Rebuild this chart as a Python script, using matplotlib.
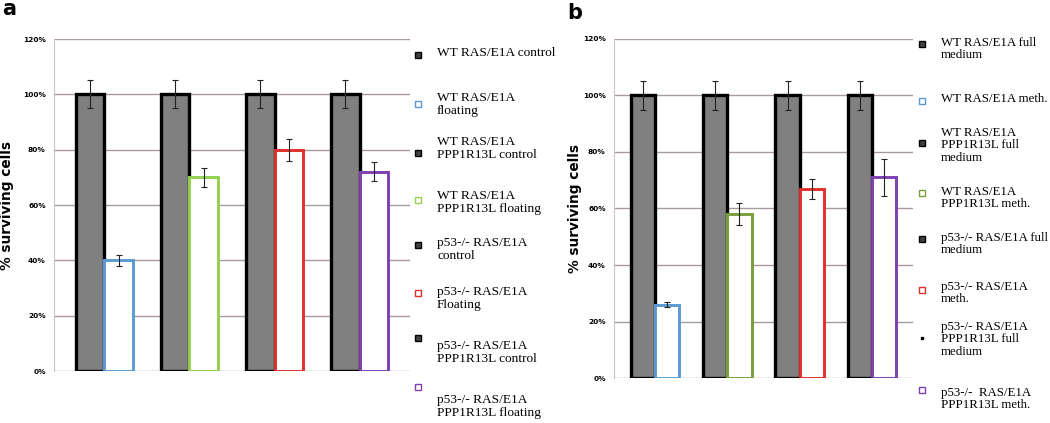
import numpy as np
import matplotlib
matplotlib.use("Agg")
import matplotlib.pyplot as plt

# panel a values (% surviving)
a_ctrl = [100, 100, 100, 100]
a_ctrl_err = [5, 5, 5, 5]
a_treat = [40, 70, 80, 72]
a_treat_err = [2, 3.5, 4, 3.5]
a_colors = ['#5b9bd5', '#92d050', '#e0302a', '#7f3fb0']
a_labels = ['WT RAS/E1A control', 'WT RAS/E1A\nfloating', 'WT RAS/E1A\nPPP1R13L control',
            'WT RAS/E1A\nPPP1R13L floating', 'p53-/- RAS/E1A\ncontrol', 'p53-/- RAS/E1A\nFloating',
            'p53-/- RAS/E1A\nPPP1R13L control', 'p53-/- RAS/E1A\nPPP1R13L floating']

# panel b values
b_ctrl = [100, 100, 100, 100]
b_ctrl_err = [5, 5, 5, 5]
b_treat = [26, 58, 67, 71]
b_treat_err = [1, 4, 3.5, 6.5]
b_colors = ['#5b9bd5', '#77a03a', '#e0302a', '#7f3fb0']
b_labels = ['WT RAS/E1A full\nmedium', 'WT RAS/E1A meth.', 'WT RAS/E1A\nPPP1R13L full\nmedium',
            'WT RAS/E1A\nPPP1R13L meth.', 'p53-/- RAS/E1A full\nmedium', 'p53-/- RAS/E1A\nmeth.',
            'p53-/- RAS/E1A\nPPP1R13L full\nmedium', 'p53-/-  RAS/E1A\nPPP1R13L meth.']

yticks = [0, 20, 40, 60, 80, 100, 120]

W, H = 1050, 423
fig = plt.figure(figsize=(W / 100, H / 100), dpi=100)


def px(x, y):
    return x / W, 1 - y / H


def panel(rect, ctrl, ctrl_err, treat, treat_err, colors, margin):
    ax = fig.add_axes(rect)
    x = np.arange(len(ctrl))
    w = 0.335
    ax.bar(x - w / 2, ctrl, w, color='#808080', edgecolor='black', linewidth=2.4, zorder=3)
    ax.bar(x + w / 2, treat, w, color='white', edgecolor=colors, linewidth=2.1, zorder=3)
    ax.errorbar(x - w / 2, ctrl, yerr=ctrl_err, fmt='none', ecolor='#222222',
                elinewidth=0.8, capsize=2, capthick=0.8, zorder=4)
    ax.errorbar(x + w / 2, treat, yerr=treat_err, fmt='none', ecolor='#222222',
                elinewidth=0.8, capsize=2, capthick=0.8, zorder=4)
    ax.set_xlim(-margin, len(ctrl) - 1 + margin)
    ax.set_ylim(0, 120)
    ax.set_yticks(yticks)
    ax.set_yticklabels([f'{v}%' for v in yticks], fontsize=5.3, fontweight='bold',
                       family='DejaVu Sans')
    ax.set_xticks([])
    ax.tick_params(axis='y', length=0, pad=6)
    ax.yaxis.grid(True, color='#a89a9a', linewidth=1.0, zorder=0)
    for s in ['top', 'right', 'bottom']:
        ax.spines[s].set_visible(False)
    ax.spines['left'].set_color('#c8c8c8')
    ax.set_axisbelow(True)
    ax.set_ylabel('% surviving cells', fontsize=9.8, fontweight='bold', family='DejaVu Sans')
    return ax


axa = panel([54 / W, 1 - 371 / H, 356 / W, 332 / H], a_ctrl, a_ctrl_err, a_treat, a_treat_err,
            a_colors, 0.59)
axa.yaxis.set_label_coords(-0.112, 0.5)
axb = panel([614 / W, 1 - 378 / H, 299 / W, 339 / H], b_ctrl, b_ctrl_err, b_treat, b_treat_err,
            b_colors, 0.57)
axb.yaxis.set_label_coords(-0.107, 0.5)

fig.text(*px(2, 15), 'a', fontsize=15, fontweight='bold', family='DejaVu Sans')
fig.text(*px(567, 19), 'b', fontsize=15, fontweight='bold', family='DejaVu Sans')


def legend(labels, colors, mx, tx, marker_y, text_y, ms, fs, lsp):
    for i, lab in enumerate(labels):
        if i % 2 == 0:
            fc, ec = '#404040', 'black'
        else:
            fc, ec = 'white', colors[i // 2]
        xm, ym = px(mx, marker_y[i])
        fig.lines.append(plt.Line2D([xm], [ym], marker='s', markersize=ms[i],
                                    markerfacecolor=fc, markeredgecolor=ec,
                                    markeredgewidth=1.0, transform=fig.transFigure))
        xt, yt = px(tx, text_y[i])
        fig.text(xt, yt, lab, fontsize=fs, family='Liberation Serif', va='top', ha='left',
                 linespacing=lsp, color='black')


legend(a_labels, a_colors, 418, 437,
       [55, 104, 153, 200, 245, 293, 338, 387],
       [47, 92, 136, 190, 237, 286, 340, 394], [3.8] * 8, 9.6, 1.08)
legend(b_labels, b_colors, 922, 941,
       [44, 101, 143, 193, 239, 290, 338, 390],
       [37, 93, 127, 186, 232, 281, 321, 387], [3.8] * 6 + [2.0, 3.8], 9.3, 1.05)

fig.savefig('out.png', dpi=100)
